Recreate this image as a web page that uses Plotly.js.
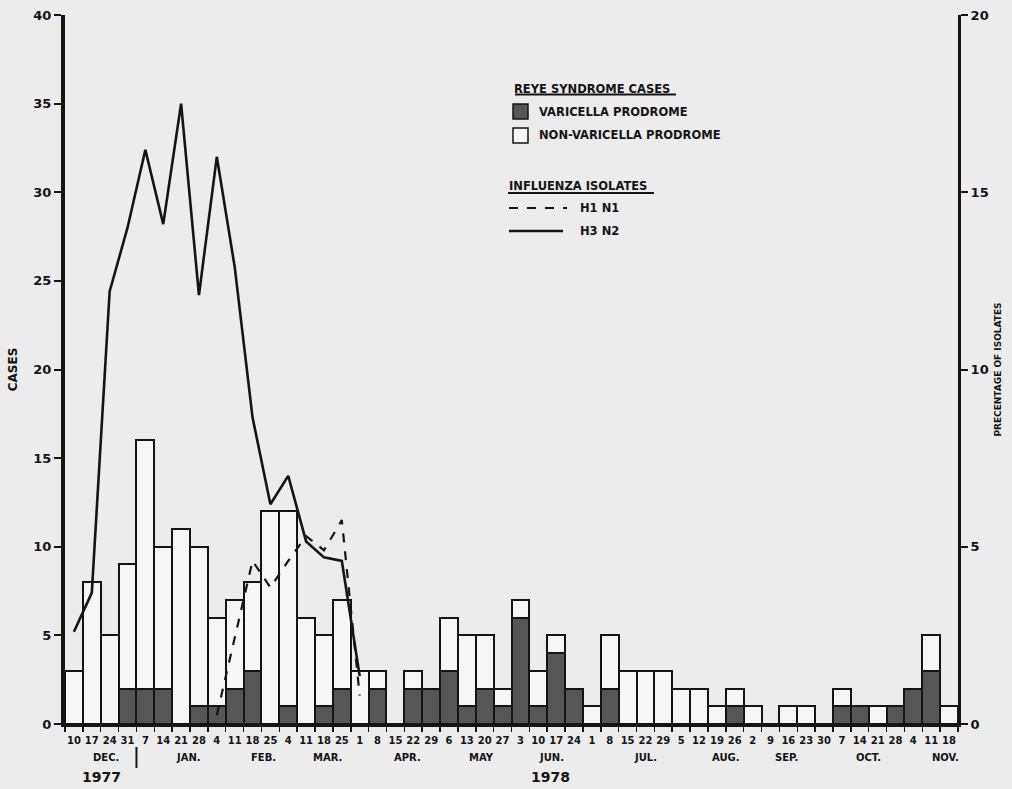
<!DOCTYPE html>
<html>
<head>
<meta charset="utf-8">
<script src="https://cdn.plot.ly/plotly-3.0.1.min.js"></script>
<style>html,body{margin:0;padding:0;background:#ececec;}</style>
</head>
<body>
<div id="chart" style="width:1012px;height:789px;"></div>
<script>
// Week-ending day labels, Dec 1977 - Nov 1978
const weekLabels = ['10','17','24','31','7','14','21','28','4','11','18','25','4','11','18','25',
  '1','8','15','22','29','6','13','20','27','3','10','17','24','1','8','15','22','29',
  '5','12','19','26','2','9','16','23','30','7','14','21','28','4','11','18'];
const months = ['DEC.','JAN.','FEB.','MAR.','APR.','MAY','JUN.','JUL.','AUG.','SEP.','OCT.','NOV.'];
const monthPos = [1.8,6.4,10.6,14.2,18.7,22.8,26.75,32.0,36.5,39.9,44.5,48.8];
const years = ['1977','1978'];
const yearPos = [1.55,26.7];

// Reye syndrome cases per week
const varicella = [0,0,0,2,2,2,0,1,1,2,3,0,1,0,1,2,0,2,0,2,2,3,1,2,1,6,1,4,2,0,2,0,0,0,0,0,0,1,0,0,0,0,0,1,1,0,1,2,3,0];
const nonVaricella = [3,8,5,7,14,8,11,9,5,5,5,12,11,6,4,5,3,1,0,1,0,3,4,3,1,1,2,1,0,1,3,3,3,3,2,2,1,1,1,0,1,1,0,1,0,1,0,0,2,1];

// Influenza isolates, percentage
const h1n1 = [null,null,null,null,null,null,null,null,0.25,2.4,4.6,3.85,4.6,5.3,4.9,5.75,0.8];
const h3n2 = [2.6,3.7,12.2,14.0,16.2,14.1,17.5,12.1,16.0,12.9,8.65,6.2,7.0,5.15,4.7,4.6,1.35];

const idx = weekLabels.map((_, i) => i);
const ink = '#141414';
const F = 'DejaVu Sans';

const traces = [
  {type:'bar', x:idx, y:varicella, name:'VARICELLA PRODROME',
   marker:{color:'#565656', line:{color:ink, width:2}}, hoverinfo:'skip'},
  {type:'bar', x:idx, y:nonVaricella, name:'NON-VARICELLA PRODROME',
   marker:{color:'#f6f6f6', line:{color:ink, width:2}}, hoverinfo:'skip'},
  {type:'scatter', mode:'lines', x:idx.slice(0, h1n1.length), y:h1n1, yaxis:'y2', name:'H1 N1',
   line:{color:ink, width:2.2, dash:'dash'}, connectgaps:false},
  {type:'scatter', mode:'lines', x:idx.slice(0, h3n2.length), y:h3n2, yaxis:'y2', name:'H3 N2',
   line:{color:ink, width:2.6}}
];

// paper-coordinate helpers for legend decoration
const px = v => (v - 65) / 893;
const py = v => (724 - v) / 709;

const annotations = [];
months.forEach((m, i) => annotations.push({x:monthPos[i], xref:'x', y:py(757), yref:'paper',
  xanchor:'center', yanchor:'middle',
  text:m, showarrow:false, font:{family:F, size:10, color:ink, weight:'bold'}}));
years.forEach((t, i) => annotations.push({x:yearPos[i], xref:'x', y:py(777), yref:'paper',
  xanchor:'center', yanchor:'middle',
  text:t, showarrow:false, font:{family:F, size:14, color:ink, weight:'bold'}}));

const legendText = [
  ['REYE SYNDROME CASES', 512, 89],
  ['VARICELLA PRODROME', 537, 112],
  ['NON-VARICELLA PRODROME', 537, 135],
  ['INFLUENZA ISOLATES', 507, 186.5],
  ['H1 N1', 578, 208],
  ['H3 N2', 578, 231]
];
legendText.forEach(t => annotations.push({x:px(t[1]), xref:'paper', y:py(t[2]), yref:'paper',
  xanchor:'left', yanchor:'middle', text:t[0], showarrow:false,
  font:{family:F, size:11.5, color:ink, weight:'bold'}}));

const shapes = [
  {type:'line', xref:'paper', yref:'paper', x0:px(515), x1:px(676), y0:py(94.5), y1:py(94.5), line:{color:ink, width:2}},
  {type:'rect', xref:'paper', yref:'paper', x0:px(513), x1:px(528), y0:py(119), y1:py(104), fillcolor:'#565656', line:{color:ink, width:1.5}},
  {type:'rect', xref:'paper', yref:'paper', x0:px(513), x1:px(528), y0:py(143), y1:py(128), fillcolor:'#f6f6f6', line:{color:ink, width:1.5}},
  {type:'line', xref:'paper', yref:'paper', x0:px(508), x1:px(654), y0:py(193), y1:py(193), line:{color:ink, width:2}},
  {type:'line', xref:'paper', yref:'paper', x0:px(509), x1:px(567), y0:py(208), y1:py(208), line:{color:ink, width:2.2, dash:'dash'}},
  {type:'line', xref:'paper', yref:'paper', x0:px(509), x1:px(563), y0:py(231), y1:py(231), line:{color:ink, width:2.6}},
  {type:'line', xref:'x', yref:'paper', x0:3.5, x1:3.5, y0:py(747), y1:py(768), line:{color:ink, width:2}}
];

const layout = {
  width:1012, height:789,
  margin:{l:65, r:54, t:15, b:65},
  paper_bgcolor:'#ececec', plot_bgcolor:'#ececec',
  barmode:'stack', bargap:0,
  showlegend:false,
  font:{family:F, color:ink},
  xaxis:{range:[-0.5,49.5], tickmode:'array', tickvals:idx, ticktext:weekLabels, tickangle:0,
    ticks:'outside', ticklen:5, tickcolor:'rgba(0,0,0,0)',
    tickfont:{family:F, size:10, color:ink, weight:'bold'},
    showline:true, linewidth:3, linecolor:ink, showgrid:false, zeroline:false,
    minor:{tickmode:'linear', tick0:0.5, dtick:1, ticks:'outside', ticklen:5, tickwidth:1.5, tickcolor:ink, showgrid:false}},
  yaxis:{range:[0,40], tickmode:'linear', tick0:0, dtick:5, ticks:'outside', ticklen:7, tickwidth:2, tickcolor:ink,
    showline:true, linewidth:4, linecolor:ink, showgrid:false, zeroline:false,
    tickfont:{family:F, size:13, color:ink, weight:'bold'},
    title:{text:'CASES', font:{family:F, size:12, color:ink, weight:'bold'}, standoff:14}},
  yaxis2:{overlaying:'y', side:'right', range:[0,20], tickmode:'linear', tick0:0, dtick:5,
    ticks:'outside', ticklen:7, tickwidth:2, tickcolor:ink,
    showline:true, linewidth:3, linecolor:ink, showgrid:false, zeroline:false,
    tickfont:{family:F, size:13, color:ink, weight:'bold'},
    title:{text:'PRECENTAGE OF ISOLATES', font:{family:F, size:9, color:ink, weight:'bold'}, standoff:8}},
  annotations:annotations,
  shapes:shapes
};

Plotly.newPlot('chart', traces, layout, {displayModeBar:false, staticPlot:true});
</script>
</body>
</html>
